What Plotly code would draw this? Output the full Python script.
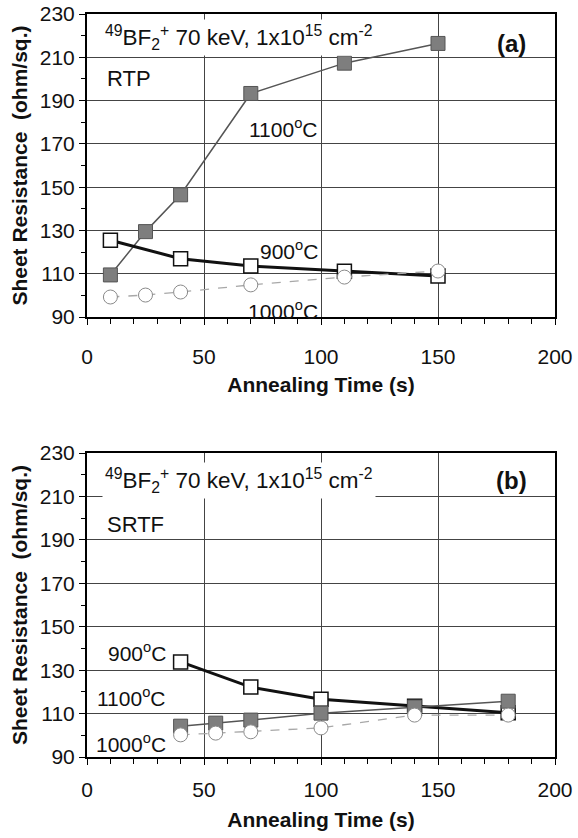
import plotly.graph_objects as go

# ---- data: panel (a) RTP ----
rtp_1100_x = [10, 25, 40, 70, 110, 150]
rtp_1100_y = [109.5, 129.5, 146.5, 193.3, 207.3, 216.4]
rtp_900_x = [10, 40, 70, 110, 150]
rtp_900_y = [125.5, 117.0, 113.6, 111.2, 109.0]
rtp_1000_x = [10, 25, 40, 70, 110, 150]
rtp_1000_y = [99.3, 100.2, 101.6, 104.9, 108.5, 111.3]

# ---- data: panel (b) SRTF ----
srtf_900_x = [40, 70, 100, 140, 180]
srtf_900_y = [133.8, 122.2, 116.6, 113.4, 110.4]
srtf_1100_x = [40, 55, 70, 100, 140, 180]
srtf_1100_y = [104.2, 105.6, 107.0, 110.2, 113.0, 115.7]
srtf_1000_x = [40, 55, 70, 100, 140, 180]
srtf_1000_y = [100.2, 101.0, 101.6, 103.4, 109.3, 109.3]

y_ticks = [90, 110, 130, 150, 170, 190, 210, 230]
x_ticks = [0, 50, 100, 150, 200]

FONT = "Liberation Sans, Arial, Helvetica, sans-serif"

fig = go.Figure()

def s1100(x, y, xa, ya):
    return go.Scatter(x=x, y=y, xaxis=xa, yaxis=ya, mode="lines+markers",
                      line=dict(color="#555555", width=1.5),
                      marker=dict(symbol="square", size=14, color="#7e7e7e",
                                  line=dict(color="#555555", width=1)),
                      showlegend=False)

def s900(x, y, xa, ya):
    return go.Scatter(x=x, y=y, xaxis=xa, yaxis=ya, mode="lines+markers",
                      line=dict(color="#111111", width=3),
                      marker=dict(symbol="square", size=14, color="white",
                                  line=dict(color="#111111", width=1.5)),
                      showlegend=False)

def s1000(x, y, xa, ya):
    return go.Scatter(x=x, y=y, xaxis=xa, yaxis=ya, mode="lines+markers",
                      line=dict(color="#a8a8a8", width=1.3, dash="dash"),
                      marker=dict(symbol="circle", size=14, color="white",
                                  line=dict(color="#8a8a8a", width=1)),
                      showlegend=False)

# top panel
fig.add_trace(s1100(rtp_1100_x, rtp_1100_y, "x", "y"))
fig.add_trace(s900(rtp_900_x, rtp_900_y, "x", "y"))
fig.add_trace(s1000(rtp_1000_x, rtp_1000_y, "x", "y"))
# bottom panel
fig.add_trace(s900(srtf_900_x, srtf_900_y, "x2", "y2"))
fig.add_trace(s1100(srtf_1100_x, srtf_1100_y, "x2", "y2"))
fig.add_trace(s1000(srtf_1000_x, srtf_1000_y, "x2", "y2"))

def make_xax(label_standoff, title_standoff):
    return dict(range=[0, 200], tickvals=x_ticks, showgrid=True, gridcolor="#444444",
                gridwidth=1, zeroline=False, showline=True, linecolor="black",
                linewidth=2, mirror=True, ticks="outside", ticklen=6, tickwidth=1,
                tickcolor="black", automargin=False, ticklabelstandoff=label_standoff,
                minor=dict(dtick=10, ticks="outside", ticklen=5, tickcolor="black",
                           showgrid=False),
                tickfont=dict(family=FONT, size=21, color="#111"),
                title=dict(text="<b>Annealing Time (s)</b>", standoff=title_standoff,
                           font=dict(family=FONT, size=21, color="#111")))

yax = dict(range=[90, 230], tickvals=y_ticks, showgrid=True, gridcolor="#444444",
           gridwidth=1, zeroline=False, showline=True, linecolor="black",
           linewidth=2, mirror=True, ticks="outside", ticklen=6, tickwidth=1,
           tickcolor="black", automargin=False,
           minor=dict(dtick=10, ticks="outside", ticklen=4, tickcolor="black",
                      showgrid=False),
           tickfont=dict(family=FONT, size=21, color="#111"),
           title=dict(text="<b>Sheet Resistance &nbsp;(ohm/sq.)</b>", standoff=6,
                      font=dict(family=FONT, size=21, color="#111")))

fig.update_layout(
    width=578, height=838,
    margin=dict(l=87, r=23, t=14, b=81),
    plot_bgcolor="white", paper_bgcolor="white",
    xaxis=dict(make_xax(14, 10), domain=[0, 1], anchor="y"),
    yaxis=dict(yax, domain=[0.592, 1], anchor="x"),
    xaxis2=dict(make_xax(7, 12), domain=[0, 1], anchor="y2"),
    yaxis2=dict(yax, domain=[0, 0.409], anchor="x2"),
    showlegend=False,
)

header = "<sup>49</sup>BF<sub>2</sub><sup>+</sup> 70 keV, 1x10<sup>15</sup> cm<sup>-2</sup>"
ann = []
def txt(t, x, y, xr, yr, xanchor="left", size=20, bg=None):
    d = dict(text=t, x=x, y=y, xref=xr, yref=yr, xanchor=xanchor, yanchor="middle",
             showarrow=False, font=dict(family=FONT, size=size, color="#111"))
    if bg:
        d["bgcolor"] = bg
        d["borderpad"] = 2
    return d

ann += [
    txt(header, 6.5, 219, "x", "y", bg="white", size=22.5),
    txt("RTP", 7.5, 200.2, "x", "y", size=22),
    txt("<b>(a)</b>", 181.5, 216.5, "x", "y", xanchor="center", size=24),
    txt("1100<sup>o</sup>C", 99.5, 177.4, "x", "y", xanchor="right", size=21),
    txt("900<sup>o</sup>C", 99.5, 121.2, "x", "y", xanchor="right", size=21),
    txt("1000<sup>o</sup>C", 99.5, 93.5, "x", "y", xanchor="right", size=21),
    txt(header, 6.5, 217.5, "x2", "y2", bg="white", size=22.5),
    txt("SRTF", 7.5, 197, "x2", "y2", size=22),
    txt("<b>(b)</b>", 181.5, 217.5, "x2", "y2", xanchor="center", size=24),
    txt("900<sup>o</sup>C", 34.5, 138.3, "x2", "y2", xanchor="right", size=21),
    txt("1100<sup>o</sup>C", 34.5, 117.6, "x2", "y2", xanchor="right", size=21),
    txt("1000<sup>o</sup>C", 34.5, 96.4, "x2", "y2", xanchor="right", size=21),
]
fig.update_layout(annotations=ann)

fig.write_html("out.html", config={"displayModeBar": False},
               post_script="document.body.style.margin='0';document.body.style.overflow='hidden';")
